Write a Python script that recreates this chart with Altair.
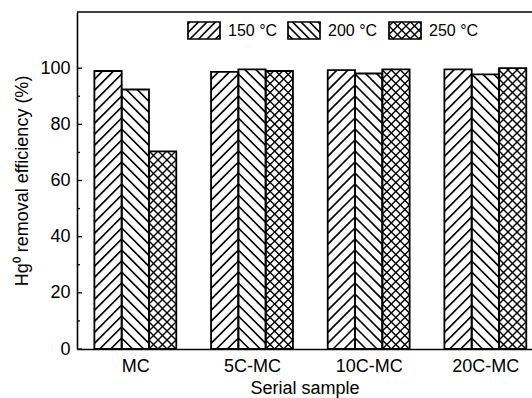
import altair as alt
import numpy as np
import pandas as pd

# ---------------- data ----------------
samples = ["MC", "5C-MC", "10C-MC", "20C-MC"]
temps = ["150 °C", "200 °C", "250 °C"]
eff_150 = [99.0, 98.7, 99.3, 99.6]
eff_200 = [92.4, 99.6, 98.1, 97.8]
eff_250 = [70.4, 99.0, 99.6, 100.0]
y_ticks = [0, 20, 40, 60, 80, 100]
y_minor = [10, 30, 50, 70, 90]

# ---------------- layout / style ----------------
W, H = 455, 337
XMIN, XMAX = -0.5, 3.4
YMAX = 120
PX = W / (XMAX - XMIN)
PY = H / YMAX
BAR_W = 0.234
FONT = "Liberation Sans"
patterns = ["/", "\\", "x"]
spacing = {"/": 11, "\\": 11, "x": 9}
hatch_width = {"/": 1.7, "\\": 1.7, "x": 1.4}


def hatch_px(X0, X1, Y0, Y1, kind, s):
    """Hatch segments in pixel space; '/' anchored on right edge, '\\' on left edge."""
    segs = []
    dirs = ["/", "\\"] if kind == "x" else [kind]
    for d in dirs:
        if d == "/":
            anchor = X1 if kind == "/" else X0
            kmin = int(np.floor((Y0 - X1 + anchor) / s)) - 1
            kmax = int(np.ceil((Y1 - X0 + anchor) / s)) + 1
            for k in range(kmin, kmax + 1):
                c = k * s - anchor
                xa = max(X0, Y0 - c)
                xb = min(X1, Y1 - c)
                if xb - xa > 0.8:
                    segs.append((xa, xa + c, xb, xb + c))
        else:
            anchor = X0
            kmin = int(np.floor((X0 + Y0 - anchor) / s)) - 1
            kmax = int(np.ceil((X1 + Y1 - anchor) / s)) + 1
            for k in range(kmin, kmax + 1):
                c = k * s + anchor
                xa = max(X0, c - Y1)
                xb = min(X1, c - Y0)
                if xb - xa > 0.8:
                    segs.append((xa, c - xa, xb, c - xb))
    return segs


def to_data(seg, w):
    xa, ya, xb, yb = seg
    return dict(xa=XMIN + xa / PX, ya=ya / PY, xb=XMIN + xb / PX, yb=yb / PY, w=w)


series = [eff_150, eff_200, eff_250]
bar_rows, hatch_rows = [], []
for si, (t, vals) in enumerate(zip(temps, series)):
    p = patterns[si]
    for gi, (s, v) in enumerate(zip(samples, vals)):
        x0 = gi + (si - 1) * BAR_W - BAR_W / 2
        x1 = x0 + BAR_W
        bar_rows.append(dict(sample=s, temp=t, xa=x0, xb=x1, ya=0.0, yb=v))
        X0, X1 = (x0 - XMIN) * PX, (x1 - XMIN) * PX
        for seg in hatch_px(X0, X1, 0.0, v * PY, p, spacing[p]):
            hatch_rows.append(to_data(seg, hatch_width[p]))

# legend (layout in pixels, converted through the same scales)
leg_rows, leg_hatch, leg_text = [], [], []
LEG_X = [111, 211, 312]
LEG_W, LEG_TOP, LEG_BOT = 32, 349 - 22, 349 - 39
for si, t in enumerate(temps):
    p = patterns[si]
    X0, X1 = LEG_X[si], LEG_X[si] + LEG_W
    leg_rows.append(dict(xa=XMIN + X0 / PX, xb=XMIN + X1 / PX, ya=LEG_BOT / PY, yb=LEG_TOP / PY))
    for seg in hatch_px(X0, X1, LEG_BOT, LEG_TOP, p, 8.5):
        leg_hatch.append(to_data(seg, hatch_width[p]))
    leg_text.append(dict(xa=XMIN + (X1 + 8) / PX, ya=(LEG_TOP + LEG_BOT) / 2 / PY, label=t))

bars = pd.DataFrame(bar_rows)
hatch = pd.DataFrame(hatch_rows + leg_hatch)
legend_boxes = pd.DataFrame(leg_rows)
legend_text = pd.DataFrame(leg_text)
major_df = pd.DataFrame({"ya": y_ticks})
minor_df = pd.DataFrame({"ya": y_minor})

label_expr = "[" + ",".join("'%s'" % s for s in samples) + "][datum.value]"

x_axis = alt.Axis(
    values=[0, 1, 2, 3], labelExpr=label_expr, ticks=False, grid=False,
    title="Serial sample", labelFontSize=18, titleFontSize=18, labelPadding=8,
    titlePadding=4, domainColor="black", domainWidth=1.6, labelColor="black",
    titleColor="black", titleFontWeight="normal", labelFont=FONT, titleFont=FONT,
)
y_axis = alt.Axis(
    values=y_ticks, ticks=False, grid=False, title="Hg⁰ removal efficiency (%)",
    labelFontSize=18, titleFontSize=18, labelPadding=7, titlePadding=8,
    domainColor="black", domainWidth=1.6, labelColor="black", titleColor="black",
    titleFontWeight="normal", labelFont=FONT, titleFont=FONT,
)
xs = alt.Scale(domain=[XMIN, XMAX], nice=False, zero=False)
ys = alt.Scale(domain=[0, YMAX], nice=False, zero=False)

X = alt.X("xa:Q", scale=xs, axis=x_axis)
Y = alt.Y("ya:Q", scale=ys, axis=y_axis)

bar_fill = alt.Chart(bars).mark_rect(fill="white").encode(
    x=X, x2="xb:Q", y=Y, y2="yb:Q"
)
hatch_lines = alt.Chart(hatch).mark_rule(color="black").encode(
    x=X, x2="xb:Q", y=Y, y2="yb:Q",
    strokeWidth=alt.StrokeWidth("w:Q", scale=None),
)
bar_outline = alt.Chart(bars).mark_rect(
    fill="white", fillOpacity=0, stroke="black", strokeWidth=1.8
).encode(x=X, x2="xb:Q", y=Y, y2="yb:Q")
leg_box = alt.Chart(legend_boxes).mark_rect(
    fill="white", fillOpacity=0, stroke="black", strokeWidth=1.7
).encode(x=X, x2="xb:Q", y=Y, y2="yb:Q")
leg_lbl = alt.Chart(legend_text).mark_text(
    align="left", baseline="middle", fontSize=16, font=FONT, color="black"
).encode(x=X, y=Y, text="label:N")
major_ticks = alt.Chart(major_df).mark_rule(color="black", strokeWidth=1.3).encode(
    y=Y, x=alt.value(0), x2=alt.value(5)
)
minor_ticks = alt.Chart(minor_df).mark_rule(color="black", strokeWidth=1.3).encode(
    y=Y, x=alt.value(0), x2=alt.value(3)
)
top_border = alt.Chart(pd.DataFrame({"ya": [YMAX]})).mark_rule(
    color="black", strokeWidth=1.6
).encode(y=Y, x=alt.value(0), x2=alt.value(W))

chart = (
    alt.layer(bar_fill, hatch_lines, bar_outline, leg_box, leg_lbl,
              major_ticks, minor_ticks, top_border)
    .properties(
        width=W, height=H,
        autosize=alt.AutoSizeParams(type="none"),
        padding={"left": 77, "top": 12, "right": 0, "bottom": 49},
        background="white",
    )
    .configure_view(stroke=None)
)

chart.save("out.html", embed_options={"renderer": "svg", "actions": False})
